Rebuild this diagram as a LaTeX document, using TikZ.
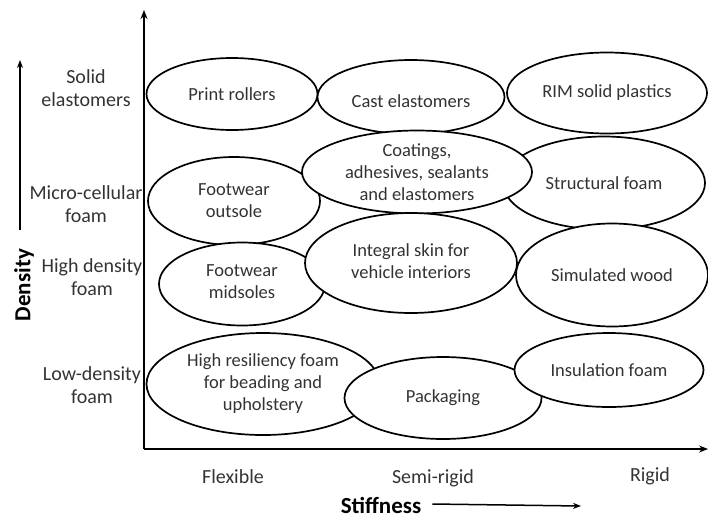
\documentclass[tikz,border=0pt]{standalone}
\usepackage{fontspec}
\setmainfont{Carlito}
\usetikzlibrary{shapes.geometric,arrows.meta}
\begin{document}
\begin{tikzpicture}[x=1pt,y=-1pt,
 blob/.style={ellipse,draw,line width=1.7pt,fill=white,inner sep=0pt},
 txt/.style={align=center,inner sep=0pt,font=\fontsize{18.5}{22}\selectfont,text=black!80},
 lab/.style={align=center,inner sep=0pt,font=\fontsize{20}{23}\selectfont,text=black!80},
 big/.style={inner sep=0pt,font=\bfseries\fontsize{23}{27}\selectfont},
 axis/.style={line width=1.8pt,-{Stealth[length=9pt,width=7pt]}}]
\useasboundingbox (0,0) rectangle (708,520);
% axes
\coordinate (o) at (144,449);
\coordinate (ytop) at (144,10);
\coordinate (xend) at (708,449);
\draw[axis] (o) -- (ytop);
\draw[axis] (o) -- (xend);
% density arrow
\coordinate (d0) at (20,230);
\coordinate (d1) at (20,60);
\draw[line width=1.5pt,-{Stealth[length=8pt,width=6pt]}] (d0) -- (d1);
\node[big,rotate=90] (dens) at (24,285) {Density};
% stiffness
\node[big] (stiff) at (381,505) {Stiffness};
\coordinate (s1) at (581,506);
\draw[line width=1.5pt,-{Stealth[length=8pt,width=6pt]}] ([xshift=11pt,yshift=1pt]stiff.east) coordinate (s0) -- (s1);
% row labels
\node[lab] (r1) at (86,88) {Solid\\elastomers};
\node[lab] (r2) at (86,204) {Micro-cellular\\foam};
\node[lab] (r3) at (92,277) {High density\\foam};
\node[lab] (r4) at (92,385) {Low-density\\foam};
% column labels
\node[lab] (c1) at (233,477) {Flexible};
\node[lab] (c2) at (433,478) {Semi-rigid};
\node[lab] (c3) at (650,476) {Rigid};
% ellipses
\node[blob,minimum width=171pt,minimum height=72pt] (pr) at (232,94) {};
\node[txt] at (pr) {Print rollers};
\node[blob,minimum width=187pt,minimum height=74pt] (ce) at (411,97) {};
\node[txt] at ([yshift=-4pt]ce.center) {Cast elastomers};
\node[blob,minimum width=200pt,minimum height=81pt] (rim) at (607,93) {};
\node[txt] at (rim) {RIM solid plastics};
\node[blob,minimum width=172pt,minimum height=88pt] (fo) at (234,201) {};
\node[txt] at (fo) {Footwear\\outsole};
\node[blob,minimum width=202pt,minimum height=93pt] (sf) at (604,183) {};
\node[txt] at (sf) {Structural foam};
\node[blob,minimum width=230pt,minimum height=83pt] (coat) at (417,172) {};
\node[txt] at (coat) {Coatings,\\adhesives, sealants\\and elastomers};
\node[blob,minimum width=166pt,minimum height=83pt] (fm) at (242,284) {};
\node[txt] at ([yshift=2pt]fm.center) {Footwear\\midsoles};
\node[blob,minimum width=192pt,minimum height=103pt] (sw) at (612,275) {};
\node[txt] at (sw) {Simulated wood};
\node[blob,minimum width=212pt,minimum height=100pt] (is) at (411,263) {};
\node[txt] at ([yshift=2pt]is.center) {Integral skin for\\vehicle interiors};
\node[blob,minimum width=233pt,minimum height=102pt] (hr) at (263,384) {};
\node[txt] at (hr) {High resiliency foam\\for beading and\\upholstery};
\node[blob,minimum width=197pt,minimum height=82pt] (pk) at (443,398) {};
\node[txt] at (pk) {Packaging};
\node[blob,minimum width=189pt,minimum height=74pt] (ins) at (609,370) {};
\node[txt] at (ins) {Insulation foam};
\end{tikzpicture}
\end{document}
